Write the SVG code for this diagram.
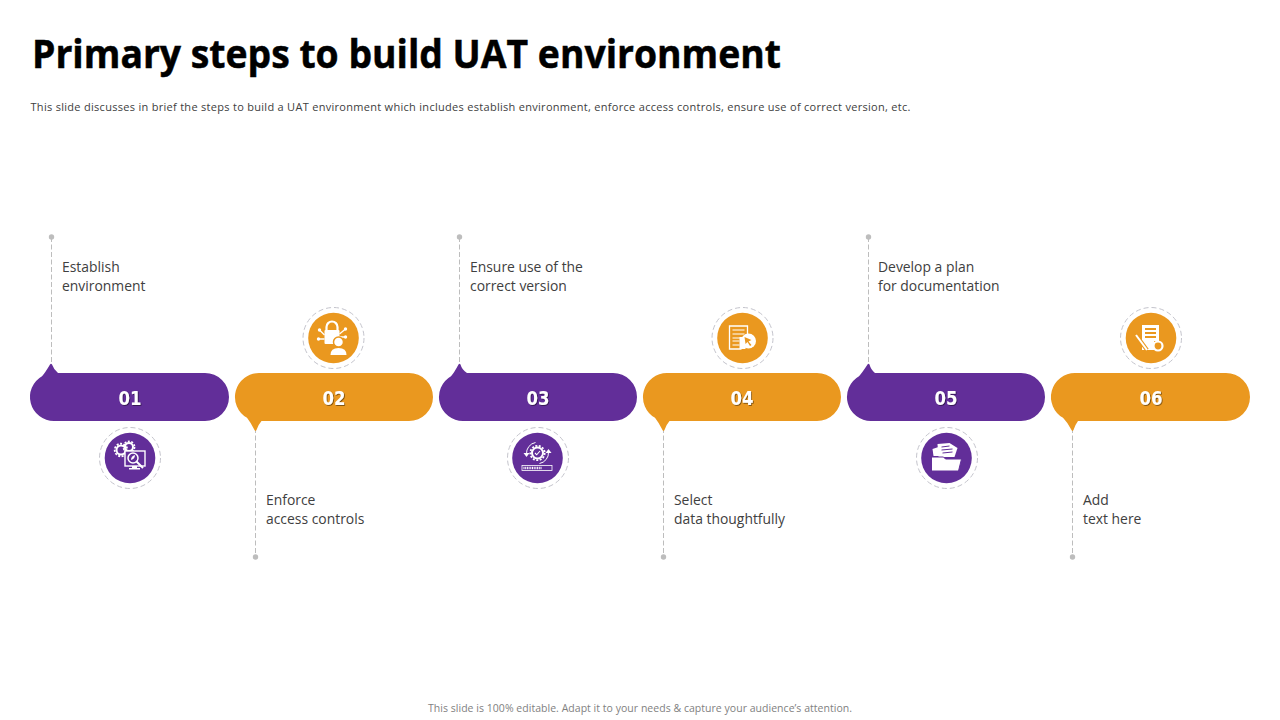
<svg xmlns="http://www.w3.org/2000/svg" width="1280" height="720" viewBox="0 0 1280 720">
<style>
text{font-family:"Open Sans","Noto Sans","DejaVu Sans",sans-serif}
.title{font-weight:700;font-size:39px;fill:#000;stroke:#000;stroke-width:0.500}
.sub{font-size:11px;fill:#404040}
.foot{font-size:10.5px;fill:#7f7f7f}
.lab{font-size:13.900px;fill:#404040}
.num{font-family:"DejaVu Sans",sans-serif;font-weight:700;font-size:19px;fill:#fff;text-anchor:middle;filter:url(#sh)}
.p{fill:#622e99}.o{fill:#ea981f}
.ring{fill:none;stroke:#c4c4cc;stroke-width:1;stroke-dasharray:5 3}
.ln{fill:none;stroke:#bdbdbd;stroke-width:1;stroke-dasharray:5 2.500}
.dot{fill:#bdbdbd}
.ic{fill:#fff}
.is{fill:none;stroke:#fff}
</style>
<defs>
<filter id="sh" x="-20%" y="-20%" width="140%" height="140%"><feDropShadow dx="0.800" dy="0.800" stdDeviation="0.500" flood-color="#000" flood-opacity="0.550"/></filter>
</defs>
<text class="title" x="32" y="68" textLength="749" lengthAdjust="spacingAndGlyphs">Primary steps to build UAT environment</text>
<text class="sub" x="30.500" y="111" textLength="880" lengthAdjust="spacing">This slide discusses in brief the steps to build a UAT environment which includes establish environment, enforce access controls, ensure use of correct version, etc.</text>

<g id="connectors">
<path class="ln" d="M51.500 237V366"/><circle class="dot" cx="51.500" cy="237" r="2.700"/>
<path class="ln" d="M255.500 428V557"/><circle class="dot" cx="255.500" cy="557" r="2.700"/>
<path class="ln" d="M459.500 237V366"/><circle class="dot" cx="459.500" cy="237" r="2.700"/>
<path class="ln" d="M663.500 428V557"/><circle class="dot" cx="663.500" cy="557" r="2.700"/>
<path class="ln" d="M868.500 237V366"/><circle class="dot" cx="868.500" cy="237" r="2.700"/>
<path class="ln" d="M1072.500 428V557"/><circle class="dot" cx="1072.500" cy="557" r="2.700"/>
</g>

<g id="step-01">
<path class="p" d="M54 373H205A24 24 0 0 1 205 421H54A24 24 0 0 1 42 376.200Q45 373 50 364.500Q51 363 52 364.500Q54 370 58 373Z"/>
<text class="num" x="130" y="405" textLength="23" lengthAdjust="spacingAndGlyphs">01</text>
<text class="lab" x="62" y="272">Establish</text><text class="lab" x="62" y="291">environment</text>
<circle class="ring" cx="130" cy="458" r="30.500"/><circle class="p" cx="130" cy="458" r="25.300"/>
<g transform="translate(130 458)">
<circle class="is" cx="-9" cy="-8" r="4.500" stroke-width="2"/>
<circle class="is" cx="-9" cy="-8" r="6.300" stroke-width="1.800" stroke-dasharray="2 1.500"/>
<circle class="is" cx="-1" cy="-11" r="4" stroke-width="2"/>
<circle class="is" cx="-1" cy="-11" r="5.600" stroke-width="1.600" stroke-dasharray="2 1.500"/>
<rect x="-5" y="-7" width="20" height="15" fill="#622e99" stroke="#fff" stroke-width="1.400"/>
<circle cx="3" cy="0" r="5" fill="#622e99" stroke="#fff" stroke-width="1.500"/>
<path class="ic" d="M1 2Q1-2 5-3Q5 1 1 2Z"/>
<path class="is" d="M6.500 3.500L13 10" stroke-width="2"/>
<path class="ic" d="M2 8h5v2h3v1.500H-1V10h3Z"/>
</g>
</g>

<g id="step-02">
<path class="o" d="M259 373H409A24 24 0 0 1 409 421H261.500Q258 425 256.500 430Q255.500 432 254.500 430Q251 423 247 417.800A24 24 0 0 1 259 373Z"/>
<text class="num" x="334" y="405" textLength="23" lengthAdjust="spacingAndGlyphs">02</text>
<text class="lab" x="266" y="505">Enforce</text><text class="lab" x="266" y="524">access controls</text>
<circle class="ring" cx="333.500" cy="338" r="30.500"/><circle class="o" cx="333.500" cy="338" r="25.300"/>
<g transform="translate(333.500 338)">
<path class="is" d="M-7-8V-11A5.500 5.500 0 0 1 4-11V-8" stroke-width="2.200"/>
<rect class="ic" x="-9" y="-8" width="15" height="14" rx="1"/>
<path class="is" d="M-9-3L-14-8M-9 1H-15M6-4L12-9M6-1H12" stroke-width="1.300"/>
<circle class="ic" cx="-14" cy="-8" r="1.700"/><circle class="ic" cx="-15" cy="1" r="1.700"/><circle class="ic" cx="12" cy="-9" r="1.700"/><circle class="ic" cx="12" cy="-1" r="1.700"/>
<circle class="ic" cx="5" cy="4" r="5" stroke="#ea981f" stroke-width="1.500"/>
<path class="ic" d="M-3 17Q-3 10 5 10Q13 10 13 17Z"/>
</g>
</g>

<g id="step-03">
<path class="p" d="M463 373H613A24 24 0 0 1 613 421H463A24 24 0 0 1 451 376.200Q454 373 458.500 364.500Q459.500 363 460.500 364.500Q462 370 467 373Z"/>
<text class="num" x="538" y="405" textLength="23" lengthAdjust="spacingAndGlyphs">03</text>
<text class="lab" x="470" y="272">Ensure use of the</text><text class="lab" x="470" y="291">correct version</text>
<circle class="ring" cx="538" cy="458" r="30.500"/><circle class="p" cx="537.500" cy="458" r="25.300"/>
<g transform="translate(537.500 458)">
<circle class="is" cx="0" cy="-5" r="5.500" stroke-width="2"/>
<circle class="is" cx="0" cy="-5" r="7.200" stroke-width="1.800" stroke-dasharray="2 1.500"/>
<path class="is" d="M-2.500-5L-0.800-3.200L2.500-7" stroke-width="1.100"/>
<path class="is" d="M-11-4A11 11 0 0 1-2-15.500M11-6A11 11 0 0 1 2 5.500" stroke-width="1"/>
<path class="ic" d="M-14-5H-8L-11-1ZM14-5H8L11-9Z"/>
<rect x="-15.500" y="7.500" width="30" height="5" fill="none" stroke="#fff" stroke-width="0.800"/>
<path d="M-14 10H4" stroke="#fff" stroke-width="2.500" stroke-dasharray="1 0.700" fill="none"/>
</g>
</g>

<g id="step-04">
<path class="o" d="M667 373H817A24 24 0 0 1 817 421H669.500Q666 425 664.500 430Q663.500 432 662.500 430Q659 423 655 417.800A24 24 0 0 1 667 373Z"/>
<text class="num" x="742" y="405" textLength="23" lengthAdjust="spacingAndGlyphs">04</text>
<text class="lab" x="674" y="505">Select</text><text class="lab" x="674" y="524">data thoughtfully</text>
<circle class="ring" cx="742.500" cy="338" r="30.500"/><circle class="o" cx="742.500" cy="338" r="25.300"/>
<g transform="translate(742.500 338)">
<path class="is" d="M-1 11H-13V-12H5V-2" stroke-width="1.300"/>
<path class="is" d="M-10-8H2M-10-4H2M-10 0H-1M-10 3H-3M-10 7H-3" stroke-width="1.200"/>
<path class="ic" d="M-3-1H3V11H-3Z"/>
<circle class="ic" cx="6" cy="3" r="7.500"/>
<path d="M2-1L9 2L6 3.500L9 7L7.500 8L5 4L3 6Z" fill="#ea981f"/>
</g>
</g>

<g id="step-05">
<path class="p" d="M871 373H1021A24 24 0 0 1 1021 421H871A24 24 0 0 1 859 376.200Q862 373 867.500 364.500Q868.500 363 869.500 364.500Q871 370 875 373Z"/>
<text class="num" x="946" y="405" textLength="23" lengthAdjust="spacingAndGlyphs">05</text>
<text class="lab" x="878" y="272">Develop a plan</text><text class="lab" x="878" y="291">for documentation</text>
<circle class="ring" cx="947" cy="458" r="30.500"/><circle class="p" cx="946.500" cy="458" r="25.300"/>
<g transform="translate(946.500 458)">
<path class="ic" d="M-14-9L-5-12V-2H-13Z"/>
<path class="ic" d="M-9-14L3-15L11-10L8-1H-8Z"/>
<path d="M-5-11L3-12M-5-8L6-9M-4-5L6-6" stroke="#622e99" stroke-width="1" fill="none"/>
<path class="ic" d="M-15-1H-3L-1 1H15L12 13H-15Z" stroke="#622e99" stroke-width="1"/>
</g>
</g>

<g id="step-06">
<path class="o" d="M1075 373H1226A24 24 0 0 1 1226 421H1078Q1075 425 1073.500 430Q1072.500 432 1071.500 430Q1068 423 1063 417.800A24 24 0 0 1 1075 373Z"/>
<text class="num" x="1151" y="405" textLength="23" lengthAdjust="spacingAndGlyphs">06</text>
<text class="lab" x="1083" y="505">Add</text><text class="lab" x="1083" y="524">text here</text>
<circle class="ring" cx="1151" cy="338" r="30.500"/><circle class="o" cx="1151" cy="338" r="25.300"/>
<g transform="translate(1151 338)">
<path class="ic" d="M-9-13H8V3H3V12H-9Z"/>
<path d="M-6-9H5M-6-5H5M-6-1H5" stroke="#ea981f" stroke-width="1.800" fill="none"/>
<path d="M-15-3L-4 12" stroke="#ea981f" stroke-width="4" fill="none"/>
<path d="M-15-3L-4 12" stroke="#fff" stroke-width="2" fill="none"/>
<circle cx="7" cy="8" r="4.500" fill="#ea981f" stroke="#fff" stroke-width="2.200"/>
</g>
</g>

<text class="foot" x="428" y="712" textLength="424" lengthAdjust="spacing">This slide is 100% editable. Adapt it to your needs &amp; capture your audience’s attention.</text>
</svg>
